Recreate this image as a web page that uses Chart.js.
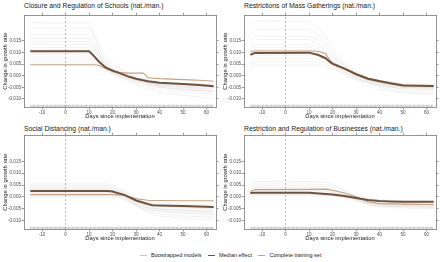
<!DOCTYPE html>
<html>
<head>
<meta charset="utf-8">
<script src="https://cdn.jsdelivr.net/npm/chart.js@4.4.1/dist/chart.umd.min.js"></script>
<style>
  body { margin: 0; background: #fff; width: 440px; height: 262px; position: relative; overflow: hidden;
         font-family: 'Liberation Sans', Arial, sans-serif; }
  canvas { position: absolute; }
  .title { position: absolute; font-size: 6.8px; color: #1a1a1a; white-space: nowrap; line-height: 8px; }
  #legend { position: absolute; left: 140px; top: 251px; font-size: 5.5px; color: #1a1a1a; white-space: nowrap; line-height: 8px; }
  .key { margin-right: 5px; }
  .key i { display: inline-block; width: 7px; height: 1.5px; vertical-align: middle; margin-right: 4px; }
</style>
</head>
<body>
<div class="title" style="left:24px;top:2px">Closure and Regulation of Schools (nat./man.)</div>
<div class="title" style="left:244px;top:2px">Restrictions of Mass Gatherings (nat./man.)</div>
<div class="title" style="left:24px;top:125px">Social Distancing (nat./man.)</div>
<div class="title" style="left:244px;top:125px">Restriction and Regulation of Businesses (nat./man.)</div>
<canvas id="schools" width="220" height="109" style="left:0;top:12px"></canvas>
<canvas id="gatherings" width="220" height="109" style="left:220px;top:12px"></canvas>
<canvas id="distancing" width="220" height="111" style="left:0;top:132px"></canvas>
<canvas id="businesses" width="220" height="111" style="left:220px;top:132px"></canvas>
<div id="legend">
  <span class="key"><i style="background:#c4c4c4"></i>Boostrapped models</span>
  <span class="key"><i style="background:#74513a"></i>Median effect</span>
  <span class="key"><i style="background:#c4a283"></i>Complete training set</span>
</div>
<script>
const FONT = "'Liberation Sans', Arial, sans-serif";
const MEDIAN_COLOR = '#74513a';
const FULL_COLOR = '#c4a283';
const BOOT_COLOR = 'rgba(185, 185, 185, 0.32)';

const X_MIN = -17.7, X_MAX = 64;
const Y_MIN = -0.0135, Y_MAX = 0.026;
const X_TICKS = [-10, 0, 10, 20, 30, 40, 50, 60];
const Y_TICKS = [-0.010, -0.005, 0.000, 0.005, 0.010, 0.015];
const RUG_DAYS = [-15, 63];
const RUG_LEVEL = -0.0131;
const MARKER_DAY = 0;

// Closure and Regulation of Schools
const schoolsDays = [-15, 10, 12, 14, 17, 20, 23, 27, 30, 33, 34, 35, 40, 50, 57, 63];
const schoolsMedian = [0.0105, 0.0105, 0.0085, 0.0062, 0.0035, 0.0021, 0.0011, -0.0005, -0.0013, -0.002, -0.0022, -0.0024, -0.0031, -0.0036, -0.004, -0.0046];
const schoolsFull = [0.0047, 0.0047, 0.0047, 0.0045, 0.0031, 0.0021, 0.0013, 0.0011, 0.0011, 0.0011, 0.0002, -0.0009, -0.0013, -0.0017, -0.002, -0.0024];
const schoolsBootDays = [-15, 10, 13, 16, 20, 25, 30, 35, 40, 50, 63];
const schoolsBoot = [
  [0.0228, 0.0226, 0.015, 0.008, 0.004, 0.002, 0.000, -0.002, -0.003, -0.004, -0.005],
  [0.0205, 0.0203, 0.016, 0.010, 0.005, 0.002, -0.001, -0.003, -0.004, -0.005, -0.006],
  [0.0178, 0.0178, 0.013, 0.007, 0.003, 0.001, -0.001, -0.003, -0.004, -0.005, -0.0055],
  [0.016, 0.016, 0.012, 0.006, 0.003, 0.0005, -0.002, -0.004, -0.005, -0.006, -0.007],
  [0.0148, 0.0147, 0.010, 0.006, 0.002, 0.000, -0.002, -0.003, -0.004, -0.0045, -0.005],
  [0.0135, 0.0135, 0.011, 0.005, 0.002, 0.001, -0.001, -0.002, -0.003, -0.0035, -0.004],
  [0.0122, 0.0122, 0.009, 0.005, 0.0025, 0.0005, -0.0015, -0.0035, -0.0045, -0.0055, -0.0065],
  [0.0112, 0.011, 0.008, 0.004, 0.001, -0.001, -0.003, -0.005, -0.006, -0.007, -0.008],
  [0.0095, 0.0095, 0.007, 0.004, 0.0015, -0.0005, -0.002, -0.003, -0.0035, -0.004, -0.0045],
  [0.008, 0.008, 0.0065, 0.0035, 0.001, -0.001, -0.0025, -0.004, -0.005, -0.006, -0.0068],
  [0.0068, 0.0068, 0.0055, 0.003, 0.0005, -0.0015, -0.004, -0.006, -0.007, -0.0085, -0.0098],
  [0.0055, 0.0055, 0.005, 0.0035, 0.0015, 0.000, -0.0015, -0.0025, -0.003, -0.0035, -0.0038]
];

// Restrictions of Mass Gatherings
const gatheringsDays = [-15, -13, 10, 14, 17, 19, 20, 25, 30, 35, 40, 45, 50, 63];
const gatheringsMedian = [0.009, 0.0098, 0.0099, 0.0089, 0.0075, 0.0058, 0.0051, 0.003, 0.0006, -0.0013, -0.0024, -0.0034, -0.0042, -0.0045];
const gatheringsFull = [0.0104, 0.0106, 0.0106, 0.0105, 0.0094, 0.0065, 0.0056, 0.0033, 0.0009, -0.001, -0.0021, -0.0031, -0.0039, -0.0045];
const gatheringsBootDays = [-15, -13, 10, 15, 20, 25, 30, 35, 40, 50, 63];
const gatheringsBoot = [
  [0.021, 0.0235, 0.0233, 0.020, 0.012, 0.006, 0.002, -0.001, -0.003, -0.004, -0.005],
  [0.018, 0.020, 0.020, 0.017, 0.010, 0.005, 0.001, -0.002, -0.003, -0.0045, -0.005],
  [0.015, 0.017, 0.0168, 0.015, 0.009, 0.0045, 0.001, -0.0015, -0.0035, -0.005, -0.0055],
  [0.013, 0.0155, 0.0155, 0.013, 0.008, 0.004, 0.0005, -0.002, -0.004, -0.006, -0.0065],
  [0.012, 0.0135, 0.0135, 0.012, 0.0075, 0.0035, 0.000, -0.002, -0.003, -0.0045, -0.005],
  [0.011, 0.0123, 0.0123, 0.011, 0.006, 0.003, 0.000, -0.0015, -0.0025, -0.0035, -0.004],
  [0.009, 0.0112, 0.0112, 0.010, 0.005, 0.002, -0.001, -0.003, -0.0045, -0.0055, -0.006],
  [0.007, 0.0088, 0.0088, 0.008, 0.005, 0.002, -0.0005, -0.0025, -0.0035, -0.005, -0.0055],
  [0.005, 0.0075, 0.0075, 0.007, 0.004, 0.0015, -0.001, -0.003, -0.005, -0.007, -0.0075],
  [0.004, 0.006, 0.006, 0.0058, 0.0035, 0.001, -0.0015, -0.003, -0.004, -0.005, -0.005],
  [0.003, 0.0045, 0.0045, 0.0045, 0.003, 0.0005, -0.002, -0.004, -0.006, -0.0075, -0.008]
];

// Social Distancing
const distancingDays = [-15, 18, 20, 22, 25, 30, 35, 37, 40, 50, 63];
const distancingMedian = [0.0025, 0.0025, 0.0023, 0.0017, 0.0009, -0.0015, -0.003, -0.0035, -0.0036, -0.0038, -0.0042];
const distancingFull = [0.001, 0.001, 0.001, 0.0009, 0.0006, -0.0007, -0.0014, -0.0015, -0.0015, -0.0016, -0.0016];
const distancingBootDays = [-15, 18, 22, 26, 30, 35, 40, 50, 63];
const distancingBoot = [
  [0.0055, 0.0055, 0.004, 0.002, -0.0005, -0.002, -0.0025, -0.003, -0.0032],
  [0.0048, 0.0048, 0.0035, 0.0015, -0.001, -0.003, -0.0035, -0.004, -0.0045],
  [0.0042, 0.0042, 0.003, 0.001, -0.0015, -0.0035, -0.004, -0.0045, -0.005],
  [0.0036, 0.0036, 0.0028, 0.0005, -0.002, -0.004, -0.005, -0.0055, -0.006],
  [0.0031, 0.0031, 0.0024, 0.0003, -0.0025, -0.0045, -0.0055, -0.006, -0.0065],
  [0.0028, 0.0028, 0.002, 0.000, -0.003, -0.005, -0.006, -0.007, -0.0075],
  [0.0022, 0.0022, 0.0015, -0.0005, -0.0035, -0.006, -0.007, -0.008, -0.0085],
  [0.0018, 0.0018, 0.001, -0.001, -0.003, -0.0045, -0.005, -0.0055, -0.006],
  [0.0012, 0.0012, 0.0008, -0.0005, -0.002, -0.0035, -0.004, -0.0045, -0.0048],
  [0.0005, 0.0005, 0.0002, -0.001, -0.0035, -0.0065, -0.008, -0.009, -0.0095],
  [0.000, 0.000, -0.0003, -0.0015, -0.004, -0.0055, -0.006, -0.0065, -0.007]
];

// Restriction and Regulation of Businesses
const businessesDays = [-15, -13, 10, 17, 20, 25, 30, 35, 40, 45, 50, 63];
const businessesMedian = [0.0017, 0.0018, 0.0018, 0.0012, 0.001, 0.0004, -0.0004, -0.0013, -0.0017, -0.0019, -0.002, -0.002];
const businessesFull = [0.0022, 0.0031, 0.0032, 0.0033, 0.0028, 0.0017, 0.0001, -0.002, -0.0028, -0.0029, -0.003, -0.0032];
const businessesBootDays = [-15, -13, 10, 17, 22, 27, 32, 37, 45, 63];
const businessesBoot = [
  [0.005, 0.0065, 0.0065, 0.006, 0.0045, 0.002, 0.000, -0.001, -0.0015, -0.0018],
  [0.004, 0.0055, 0.0055, 0.005, 0.004, 0.0015, -0.0005, -0.0015, -0.002, -0.0025],
  [0.0035, 0.0047, 0.0047, 0.0042, 0.003, 0.0012, -0.0008, -0.002, -0.0025, -0.003],
  [0.003, 0.004, 0.004, 0.0035, 0.0025, 0.001, -0.001, -0.0025, -0.003, -0.0035],
  [0.0025, 0.0033, 0.0033, 0.003, 0.002, 0.0005, -0.0012, -0.003, -0.0035, -0.004],
  [0.002, 0.0027, 0.0027, 0.0024, 0.0016, 0.0003, -0.0015, -0.0035, -0.004, -0.0045],
  [0.0015, 0.0022, 0.0022, 0.002, 0.0013, 0.000, -0.0015, -0.0025, -0.003, -0.0032],
  [0.001, 0.0015, 0.0015, 0.0013, 0.0008, -0.0003, -0.002, -0.004, -0.0045, -0.005],
  [0.0005, 0.001, 0.001, 0.0008, 0.0005, -0.0005, -0.0018, -0.003, -0.0035, -0.0038],
  [0.000, 0.0005, 0.0005, 0.0004, 0.0002, -0.0008, -0.002, -0.0035, -0.004, -0.0042]
];

const pts = (xs, ys) => xs.map((x, i) => ({ x: x, y: ys[i] }));

// shared axis look, the panel frame is drawn from the four borders
const frame = { display: true, color: '#7a7a7a', width: 0.8 };
const tickMarks = { drawOnChartArea: false, drawTicks: true, tickLength: 2.5, color: '#555', lineWidth: 0.6 };

function xAxis(position, height) {
  return {
    type: 'linear', position: position, min: X_MIN, max: X_MAX,
    afterBuildTicks: (axis) => { axis.ticks = X_TICKS.map(v => ({ value: v })); },
    ticks: { display: position === 'bottom', font: { size: 4.6, family: FONT }, color: '#4d4d4d',
             padding: 0.5, maxRotation: 0, autoSkip: false, callback: (v) => String(v) },
    grid: tickMarks, border: frame,
    title: { display: position === 'bottom', text: 'Days since implementation',
             font: { size: 5.8, family: FONT }, color: '#1a1a1a', padding: { top: 0, bottom: 1 } },
    afterFit: (axis) => { axis.height = height; }
  };
}

function yAxis(position, width) {
  return {
    type: 'linear', position: position, min: Y_MIN, max: Y_MAX,
    afterBuildTicks: (axis) => { axis.ticks = Y_TICKS.map(v => ({ value: v })); },
    ticks: { display: position === 'left', font: { size: 4.6, family: FONT }, color: '#4d4d4d',
             padding: 0.5, autoSkip: false, callback: (v) => v.toFixed(3) },
    grid: tickMarks, border: frame,
    title: { display: position === 'left', text: 'Change in growth rate',
             font: { size: 5.8, family: FONT }, color: '#1a1a1a', padding: { top: 2, bottom: 0 } },
    afterFit: (axis) => { axis.width = width; }
  };
}

function makeChart(id, days, median, full, bootDays, boot) {
  const datasets = [
    { label: 'Median effect', data: pts(days, median), borderColor: MEDIAN_COLOR, borderWidth: 2, order: 0 },
    { label: 'Complete training set', data: pts(days, full), borderColor: FULL_COLOR, borderWidth: 1.1, order: 1 }
  ];
  boot.forEach(line => {
    datasets.push({ label: 'Boostrapped models', data: pts(bootDays, line), borderColor: BOOT_COLOR, borderWidth: 0.6, order: 2 });
  });
  // day of implementation
  datasets.push({ label: 'implementation', data: [{ x: MARKER_DAY, y: Y_MIN }, { x: MARKER_DAY, y: Y_MAX }],
                  borderColor: '#9a9a9a', borderWidth: 0.7, borderDash: [2, 2], order: 3 });
  // rug of observed days
  datasets.push({ label: 'rug', data: RUG_DAYS.map(d => ({ x: d, y: RUG_LEVEL })),
                  borderColor: '#bdbdbd', borderWidth: 2.5, borderDash: [0.8, 0.5], order: 3 });
  datasets.forEach(d => { d.xAxisID = 'x'; d.yAxisID = 'y'; d.fill = false; });

  new Chart(document.getElementById(id), {
    type: 'line',
    data: { datasets: datasets },
    options: {
      responsive: false, animation: false, devicePixelRatio: 1,
      layout: { padding: 0 },
      elements: { point: { radius: 0 }, line: { tension: 0 } },
      plugins: { legend: { display: false }, tooltip: { enabled: false } },
      scales: {
        x: xAxis('bottom', 14),
        x2: xAxis('top', 2.3),
        y: yAxis('left', 24),
        y2: yAxis('right', 4)
      }
    }
  });
}

makeChart('schools', schoolsDays, schoolsMedian, schoolsFull, schoolsBootDays, schoolsBoot);
makeChart('gatherings', gatheringsDays, gatheringsMedian, gatheringsFull, gatheringsBootDays, gatheringsBoot);
makeChart('distancing', distancingDays, distancingMedian, distancingFull, distancingBootDays, distancingBoot);
makeChart('businesses', businessesDays, businessesMedian, businessesFull, businessesBootDays, businessesBoot);
</script>
</body>
</html>
